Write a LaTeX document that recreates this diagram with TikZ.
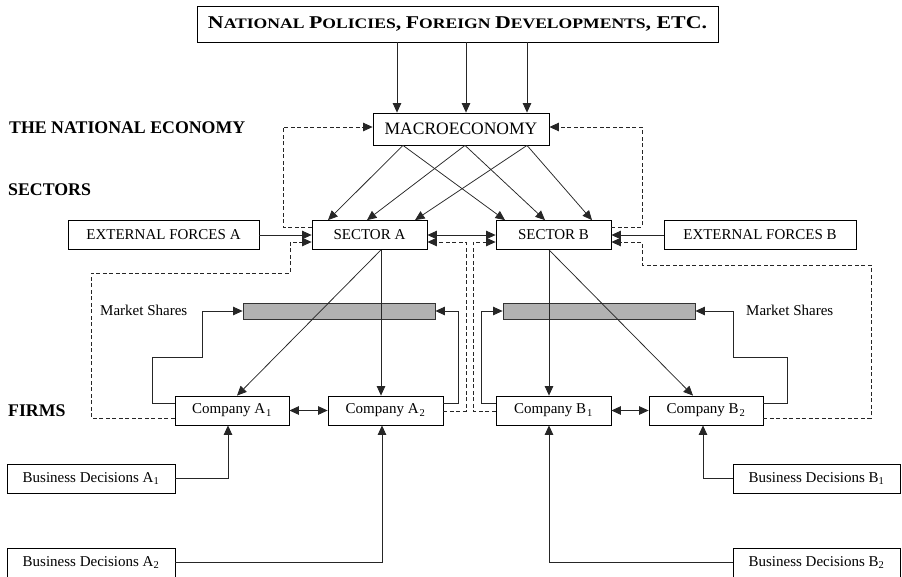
\documentclass[tikz,border=0pt]{standalone}
\usepackage{fontspec}
\usepackage{graphicx}
\setmainfont{Liberation Serif}
\usetikzlibrary{arrows.meta}
\newcommand\bigsc[2]{{\fontsize{18}{20}\selectfont #1}{\fontsize{14.5}{16}\selectfont #2}}
\begin{document}
\begin{tikzpicture}[x=1pt,y=-1pt,
  box/.style={draw=black, line width=0.8pt, inner sep=0pt, font=\fontsize{15}{18}\selectfont},
  lbl/.style={anchor=west, inner sep=0pt, font=\fontsize{17.8}{20}\selectfont\bfseries},
  mlbl/.style={anchor=west, inner sep=0pt, font=\fontsize{15}{18}\selectfont},
  bar/.style={draw=black!80, line width=0.8pt, fill=gray!60, inner sep=0pt, minimum width=192pt, minimum height=16pt},
  con/.style={draw=black!85, line width=0.75pt},
  arr/.style={con, -{Triangle[length=9.5pt,width=8.5pt]}},
  darr/.style={con, {Triangle[length=9.5pt,width=8.5pt]}-{Triangle[length=9.5pt,width=8.5pt]}},
  dsh/.style={dash pattern=on 4pt off 2.5pt}]
\useasboundingbox (0,0) rectangle (902,576);

% nodes
\node[box, minimum width=521pt, minimum height=36pt] (top) at (457.5,24)
  {\resizebox{499pt}{\height}{\bfseries\bigsc{N}{ATIONAL} \bigsc{P}{OLICIES}{\fontsize{18}{20}\selectfont,} \bigsc{F}{OREIGN} \bigsc{D}{EVELOPMENTS}{\fontsize{18}{20}\selectfont, ETC.}}};
\node[box, minimum width=176pt, minimum height=32pt, font=\fontsize{17.5}{20}\selectfont] (macro) at (461,129) {MACROECONOMY};
\node[box, minimum width=115pt, minimum height=29pt] (secA) at (369.5,235) {SECTOR A};
\node[box, minimum width=115pt, minimum height=29pt] (secB) at (553.5,235) {SECTOR B};
\node[box, minimum width=191pt, minimum height=29pt] (extA) at (163.5,235) {EXTERNAL FORCES A};
\node[box, minimum width=192pt, minimum height=29pt] (extB) at (760,235) {EXTERNAL FORCES B};
\node[bar] (barA) at (339,311) {};
\node[bar] (barB) at (599,311) {};
\node[box, minimum width=114pt, minimum height=29pt] (cA1) at (232,410.5) {Company A\kern1pt\textsubscript{1}};
\node[box, minimum width=115pt, minimum height=29pt] (cA2) at (385.5,410.5) {Company A\kern1pt\textsubscript{2}};
\node[box, minimum width=115pt, minimum height=29pt] (cB1) at (553.5,410.5) {Company B\kern1pt\textsubscript{1}};
\node[box, minimum width=114pt, minimum height=29pt] (cB2) at (706,410.5) {Company B\kern1pt\textsubscript{2}};
\node[box, minimum width=168pt, minimum height=29pt] (bdA1) at (91,478.5) {Business Decisions A\textsubscript{1}};
\node[box, minimum width=168pt, minimum height=29pt] (bdA2) at (91,562.5) {Business Decisions A\textsubscript{2}};
\node[box, minimum width=167pt, minimum height=29pt] (bdB1) at (816.5,478.5) {Business Decisions B\textsubscript{1}};
\node[box, minimum width=167pt, minimum height=29pt] (bdB2) at (816.5,562.5) {Business Decisions B\textsubscript{2}};

\node[lbl] (lnat) at (9,128) {THE NATIONAL ECONOMY};
\node[lbl] (lsec) at (8,190) {SECTORS};
\node[lbl] (lfirm) at (8,411) {FIRMS};
\node[mlbl] (msA) at (100,310) {Market Shares};
\node[mlbl] (msB) at (746,310) {Market Shares};

% top to macro
\foreach \xx in {397,466,527}
  \draw[arr] (top.south -| \xx,0) -- (macro.north -| \xx,0);

% macro to sectors
\foreach \mx/\ax/\bx in {403/328/505, 465/367/545, 527/415/592}{
  \draw[arr] (macro.south -| \mx,0) -- (secA.north -| \ax,0);
  \draw[arr] (macro.south -| \mx,0) -- (secB.north -| \bx,0);
}

% external forces
\draw[arr] (extA.east) -- (secA.west);
\draw[arr] (extB.west) -- (secB.east);
\draw[darr] (secA.east) -- (secB.west);

% dashed feedback
\draw[arr,dsh] (secA.west |- 0,227) -- (283,227) -- (283,127) -- (macro.west |- 0,127);
\draw[arr,dsh] (secB.east |- 0,227) -- (642,227) -- (642,127) -- (macro.east |- 0,127);
\draw[arr,dsh] (cA1.west |- 0,418) -- (91,418) -- (91,273) -- (290,273) -- (290,242) -- (secA.west |- 0,242);
\draw[arr,dsh] (cB2.east |- 0,418) -- (871,418) -- (871,265) -- (642,265) -- (642,242) -- (secB.east |- 0,242);
\draw[arr,dsh] (cA2.east |- 0,411) -- (466,411) -- (466,242) -- (secA.east |- 0,242);
\draw[arr,dsh] (cB1.west |- 0,411) -- (473,411) -- (473,242) -- (secB.west |- 0,242);

% sectors to companies
\draw[arr] (secA.south -| 381,0) -- (cA2.north -| 381,0);
\draw[arr] (secA.south -| 381,0) -- (cA1.north -| 237,0);
\draw[arr] (secB.south -| 549,0) -- (cB1.north -| 549,0);
\draw[arr] (secB.south -| 549,0) -- (cB2.north -| 693,0);

% between companies
\draw[darr] (cA1.east) -- (cA2.west);
\draw[darr] (cB1.east) -- (cB2.west);

% market shares
\draw[arr] (cA1.west |- 0,403) -- (152,403) -- (152,357) -- (202,357) -- (202,311) -- (barA.west);
\draw[arr] (cA2.east |- 0,403) -- (458,403) -- (458,311) -- (barA.east);
\draw[arr] (cB1.west |- 0,403) -- (481,403) -- (481,311) -- (barB.west);
\draw[arr] (cB2.east |- 0,403) -- (787,403) -- (787,357) -- (733,357) -- (733,311) -- (barB.east);

% business decisions
\draw[arr] (bdA1.east) -| (cA1.south -| 228,0);
\draw[arr] (bdA2.east) -| (cA2.south -| 382,0);
\draw[arr] (bdB1.west) -| (cB2.south -| 703,0);
\draw[arr] (bdB2.west) -| (cB1.south -| 549,0);
\end{tikzpicture}
\end{document}
